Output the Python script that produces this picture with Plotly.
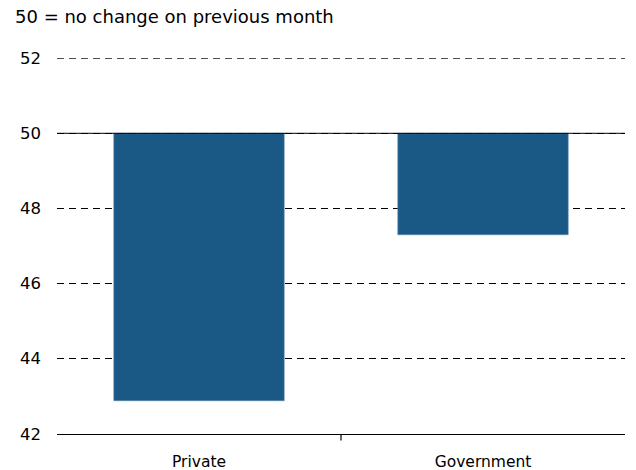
import plotly.graph_objects as go

categories = ["Private", "Government"]
values = [42.88, 47.3]
base_value = 50
y_ticks = [42, 44, 46, 48, 50, 52]
title_text = "50 = no change on previous month"

BAR_COLOR = "#1a5886"
FONT = "DejaVu Sans"

fig = go.Figure()
fig.add_trace(go.Bar(
    x=categories,
    y=[v - base_value for v in values],
    base=base_value,
    width=0.6,
    marker=dict(color=BAR_COLOR, line=dict(color="#5a86ad", width=0.6)),
    hoverinfo="skip",
))

# solid reference line at 50
fig.add_shape(type="line", xref="paper", yref="y", x0=0, x1=1, y0=base_value, y1=base_value,
              line=dict(color="black", width=1), layer="above")
# dashed gridline at top of range (plotly hides gridlines on the range edge)
fig.add_shape(type="line", xref="paper", yref="y", x0=0, x1=1, y0=y_ticks[-1], y1=y_ticks[-1],
              line=dict(color="black", width=1, dash="7px,5px"), layer="below")
# middle tick on category boundary
fig.add_shape(type="line", xref="x", yref="paper", x0=0.5, x1=0.5, y0=0, y1=-0.017,
              line=dict(color="black", width=1.2))

fig.add_annotation(text=title_text, xref="paper", yref="paper",
                   x=(13 - 57) / 568, y=1 + (58 - 29) / 376, xanchor="left", yanchor="bottom",
                   showarrow=False, font=dict(family=FONT, size=18, color="black"))

fig.update_layout(
    width=636, height=470,
    margin=dict(l=57, r=11, t=58, b=36),
    plot_bgcolor="white", paper_bgcolor="white",
    showlegend=False,
    bargap=0.4,
    font=dict(family=FONT, color="black"),
    xaxis=dict(
        type="category", showgrid=False, ticks="", showline=True, linecolor="black", linewidth=1,
        tickfont=dict(size=15.5), ticklabelstandoff=13, range=[-0.5, 1.5], automargin=False,
    ),
    yaxis=dict(
        range=[41.995, 52.005], tickvals=y_ticks, showgrid=True, gridcolor="black", gridwidth=0.8,
        griddash="7px,5px", zeroline=False, ticks="", showline=False, automargin=False,
        tickfont=dict(size=16.5), ticklabelstandoff=15,
    ),
)

fig.write_html("out.html")
